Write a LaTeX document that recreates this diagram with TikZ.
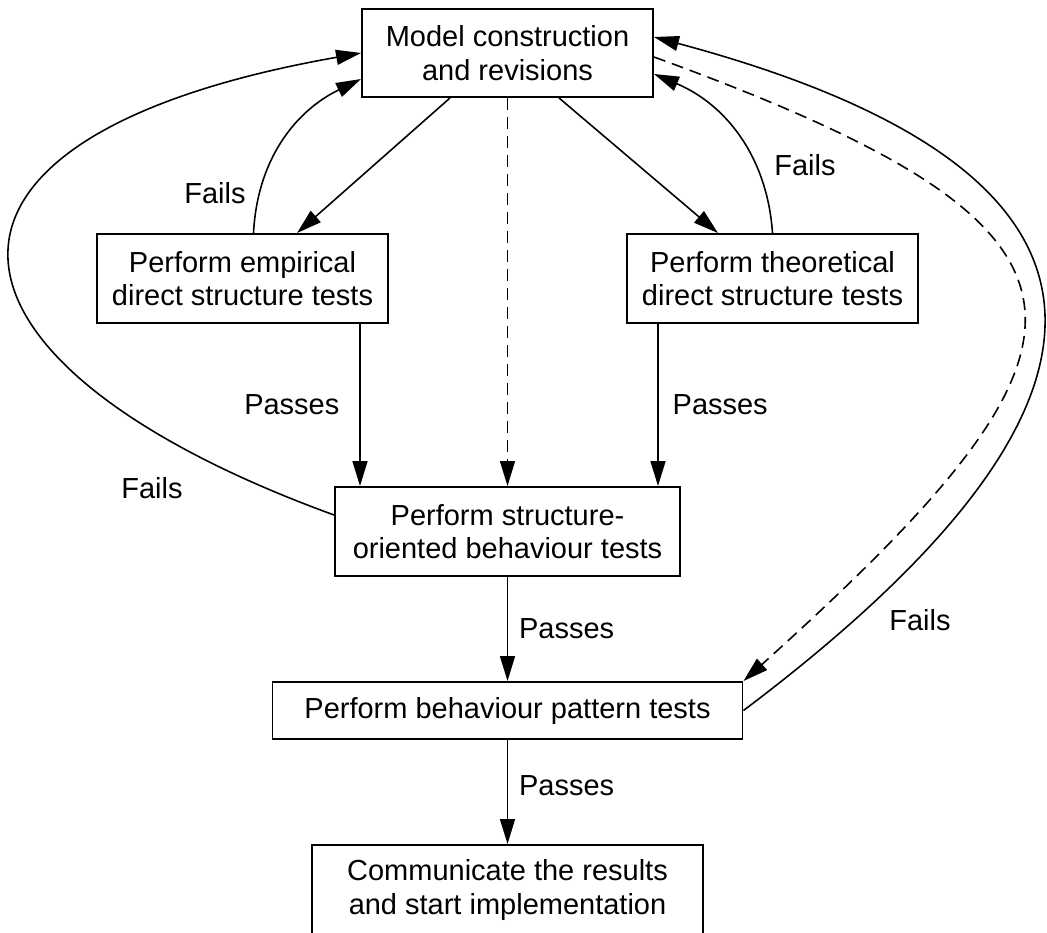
\documentclass[tikz,border=0pt]{standalone}
\usepackage{fontspec}
\setmainfont{Liberation Sans}
\usetikzlibrary{arrows.meta}

\begin{document}
\begin{tikzpicture}[
  box/.style={draw, line width=1.1pt, align=center, inner sep=2pt},
  arr/.style={-{Triangle[length=0.5cm,width=0.3cm]}, line width=0.9pt},
  dashline/.style={dash pattern=on 0.24cm off 0.14cm},
  font=\fontsize{16.5}{19}\selectfont]

\useasboundingbox (0,0) rectangle (20.94,18.64);

\node [box, minimum width=5.82cm, minimum height=1.76cm] (model) at (10.15,17.58) {Model construction\\and revisions};
\node [box, minimum width=5.82cm, minimum height=1.78cm] (emp) at (4.85,13.07) {Perform empirical\\direct structure tests};
\node [box, minimum width=5.82cm, minimum height=1.78cm] (theo) at (15.45,13.07) {Perform theoretical\\direct structure tests};
\node [box, minimum width=6.9cm, minimum height=1.78cm] (struct) at (10.15,8.01) {Perform structure-\\oriented behaviour tests};
\node [box, minimum width=9.4cm, minimum height=1.14cm] (pattern) at (10.15,4.43) {Perform behaviour pattern tests};
\node [box, minimum width=7.82cm, minimum height=1.8cm] (comm) at (10.15,0.84) {Communicate the results\\and start implementation};

\draw [arr] ([xshift=-1.15cm]model.south) -- ([xshift=1.09cm]emp.north);
\draw [arr] ([xshift=1.03cm]model.south) -- ([xshift=-1.09cm]theo.north);
\draw [arr, dashline] (model.south) -- (struct.north);

\draw [arr] ([xshift=2.35cm]emp.south) -- ([xshift=2.35cm]emp.south |- struct.north) node [midway, left=0.28cm] (passE) {Passes};
\draw [arr] ([xshift=-2.29cm]theo.south) -- ([xshift=-2.29cm]theo.south |- struct.north) node [midway, right=0.16cm] (passT) {Passes};
\draw [arr] (struct) -- (pattern) node [midway, right=0.1cm] (passS) {Passes};
\draw [arr] (pattern) -- (comm) node [pos=0.44, right=0.1cm] (passP) {Passes};

\draw [arr] ([xshift=0.22cm]emp.north) to [out=87, in=206] ([yshift=-0.52cm]model.west);
\draw [arr] (theo.north) to [out=94, in=337] ([yshift=-0.42cm]model.east);
\draw [arr] ([yshift=0.33cm]struct.west) to [out=160, in=190, out looseness=2.45, in looseness=2.7] (model.west);
\draw [arr] (pattern.east) to [out=37, in=345, looseness=1.95] ([yshift=0.32cm]model.east);
\draw [arr, dashline] ([yshift=-0.08cm]model.east) to [out=-20, in=42, looseness=2.08] (pattern.north east);

\node (failsE) at (4.30,14.78) {Fails};
\node (failsT) at (16.10,15.34) {Fails};
\node (failsS) at (3.04,8.88) {Fails};
\node (failsP) at (18.40,6.24) {Fails};

\end{tikzpicture}
\end{document}
